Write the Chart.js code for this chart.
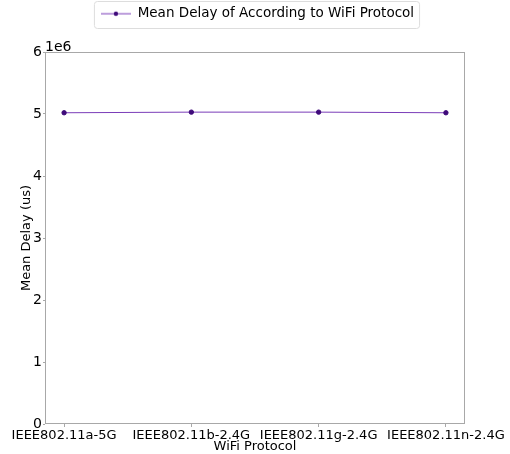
<!DOCTYPE html>
<html>
<head>
<meta charset="utf-8">
<script src="https://cdn.jsdelivr.net/npm/chart.js@4/dist/chart.umd.min.js"></script>
<style>
  html, body { margin: 0; padding: 0; background: #fff; }
  #wrap { width: 510px; height: 454px; }
</style>
</head>
<body>
<div id="wrap"><canvas id="myChart"></canvas></div>
<script>
// datos del grafico
var protocolos = ['IEEE802.11a-5G', 'IEEE802.11b-2.4G', 'IEEE802.11g-2.4G', 'IEEE802.11n-2.4G'];
var retardoMedio = [5020000, 5030000, 5030000, 5020000];
var ticksY = [0, 1, 2, 3, 4, 5, 6];

var fuente = 'DejaVu Sans';
var colorLinea = '#7a3cb8';
var colorPunto = '#3f0a7a';
var desplLeyenda = 25; // corrimiento horizontal de la leyenda

// simbolo de la leyenda: linea con punto en el centro
var simbolo = document.createElement('canvas');
simbolo.width = 30;
simbolo.height = 8;
(function () {
  var c = simbolo.getContext('2d');
  c.strokeStyle = colorLinea;
  c.lineWidth = 1;
  c.beginPath();
  c.moveTo(0, 4);
  c.lineTo(30, 4);
  c.stroke();
  c.fillStyle = colorPunto;
  c.beginPath();
  c.arc(15, 4, 2.2, 0, Math.PI * 2);
  c.fill();
})();

// borde del area del grafico, marco de la leyenda y el texto "1e6"
var marcoPlugin = {
  id: 'marco',
  beforeLayout: function (chart) {
    var leg = chart.legend;
    if (leg && !leg._parcheado) {
      var fitOrig = leg.fit;
      leg.fit = function () {
        fitOrig.apply(this, arguments);
        this.height = 52;
      };
      var drawOrig = leg.draw;
      leg.draw = function () {
        var c = this.ctx;
        c.save();
        c.translate(desplLeyenda, 0);
        drawOrig.apply(this, arguments);
        c.restore();
      };
      leg._parcheado = true;
    }
  },
  afterDraw: function (chart) {
    var a = chart.chartArea;
    var ctx = chart.ctx;
    ctx.save();
    ctx.strokeStyle = '#a8a8a8';
    ctx.lineWidth = 1;
    ctx.strokeRect(a.left + 0.5, a.top + 0.5, a.right - a.left - 1, a.bottom - a.top - 1);

    var hb = chart.legend.legendHitBoxes[0];
    if (hb) {
      ctx.strokeStyle = '#dddddd';
      ctx.beginPath();
      ctx.roundRect(hb.left + desplLeyenda - 6.5, 1.5, hb.width + 12, 27, 3);
      ctx.stroke();
    }

    ctx.fillStyle = '#000';
    ctx.font = '14px ' + fuente;
    ctx.textBaseline = 'bottom';
    ctx.textAlign = 'left';
    ctx.fillText('1e6', a.left, a.top + 2);
    ctx.restore();
  }
};

var ctx = document.getElementById('myChart').getContext('2d');
var myChart = new Chart(ctx, {
  type: 'line',
  data: {
    datasets: [{
      label: 'Mean Delay of According to WiFi Protocol',
      data: protocolos.map(function (p, i) { return { x: i, y: retardoMedio[i] }; }),
      borderColor: colorLinea,
      backgroundColor: colorPunto,
      pointBackgroundColor: colorPunto,
      pointBorderColor: colorPunto,
      borderWidth: 1,
      pointRadius: 2.2,
      pointHoverRadius: 2.2,
      tension: 0
    }]
  },
  options: {
    responsive: true,
    maintainAspectRatio: false,
    animation: false,
    layout: { padding: { left: 0, right: 45, top: 0, bottom: 0 } },
    plugins: {
      legend: {
        display: true,
        position: 'top',
        labels: {
          font: { family: fuente, size: 13.5 },
          color: '#000',
          usePointStyle: true,
          pointStyle: simbolo,
          pointStyleWidth: 30,
          padding: 7
        }
      },
      tooltip: { enabled: false }
    },
    scales: {
      x: {
        type: 'linear',
        min: -0.15,
        max: 3.15,
        afterBuildTicks: function (s) {
          s.ticks = protocolos.map(function (p, i) { return { value: i }; });
        },
        ticks: {
          autoSkip: false,
          maxRotation: 0,
          padding: 1,
          color: '#000',
          font: { family: fuente, size: 13 },
          callback: function (v) { return protocolos[v]; }
        },
        grid: { drawOnChartArea: false, tickLength: 3, color: '#a8a8a8' },
        border: { display: false },
        title: {
          display: true,
          text: 'WiFi Protocol',
          color: '#000',
          font: { family: fuente, size: 13 },
          padding: { top: 0, bottom: 0 }
        },
        afterFit: function (s) { s.height = 30; }
      },
      y: {
        min: 0,
        max: 6000000,
        afterBuildTicks: function (s) {
          s.ticks = ticksY.map(function (t) { return { value: t * 1000000 }; });
        },
        ticks: {
          color: '#000',
          padding: 1,
          font: { family: fuente, size: 14 },
          callback: function (v) { return String(v / 1000000); }
        },
        grid: { drawOnChartArea: false, tickLength: 2, color: '#a8a8a8' },
        border: { display: false },
        title: {
          display: true,
          text: 'Mean Delay (us)',
          color: '#000',
          font: { family: fuente, size: 13 },
          padding: { top: 19, bottom: 0 }
        },
        afterFit: function (s) { s.width = 45; }
      }
    }
  },
  plugins: [marcoPlugin]
});
</script>
</body>
</html>
